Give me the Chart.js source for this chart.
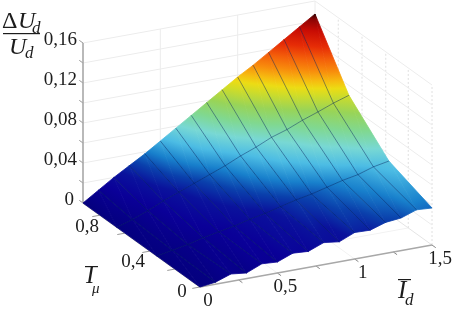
<!DOCTYPE html>
<html>
<head>
<meta charset="utf-8">
<title>surface</title>
<script src="https://cdn.jsdelivr.net/npm/chart.js@4/dist/chart.umd.js"></script>
<style>
	html, body { margin: 0; padding: 0; background: #fff; }
	canvas { display: block; filter: blur(0.4px); }
</style>
</head>
<body>
<canvas id="chart" width="453" height="309"></canvas>
<script>
/* values */
const idValues = [0, 0.1, 0.2, 0.3, 0.4, 0.5, 0.6, 0.7, 0.8, 0.9, 1, 1.1, 1.2, 1.3, 1.4, 1.5];
const imuValues = [0, 0.345, 0.665, 0.936];
const rowImu0 = [0, 0.002, 0.0074, 0.0056, 0.012, 0.011, 0.017, 0.016, 0.022, 0.020, 0.0265, 0.026, 0.031, 0.0326, 0.038, 0.037];
const rowImu1 = [0, 0.003, 0.006, 0.010, 0.013, 0.016, 0.020, 0.023, 0.027, 0.031, 0.034, 0.038, 0.042, 0.045, 0.050, 0.053];
const rowImu2 = [0, 0.005, 0.011, 0.018, 0.024, 0.030, 0.036, 0.042, 0.049, 0.055, 0.062, 0.067, 0.0735, 0.079, 0.085, 0.090];
const rowImu3 = [0, 0.010, 0.020, 0.029, 0.038, 0.048, 0.058, 0.068, 0.078, 0.088, 0.098, 0.107, 0.117, 0.127, 0.137, 0.147];
const rows = [rowImu0, rowImu1, rowImu2, rowImu3];

const zTicks = [0, 0.04, 0.08, 0.12, 0.16];
const zTickLabels = ['0', '0,04', '0,08', '0,12', '0,16'];
const zGrid = [0.02, 0.04, 0.06, 0.08, 0.10, 0.12, 0.14, 0.16];
const imuTicks = [0, 0.4, 0.8];
const imuTickLabels = ['0', '0,4', '0,8'];
const imuGrid = [0.19, 0.37, 0.56, 0.75];
const imuMinor = [0.2, 0.4, 0.6, 0.8];
const idTicks = [0, 0.5, 1, 1.5];
const idTickLabels = ['0', '0,5', '1', '1,5'];

/* colour map by height */
const mapZ = [0, 0.014, 0.024, 0.032, 0.04, 0.05, 0.06, 0.07, 0.08, 0.09, 0.095, 0.10, 0.107, 0.115, 0.124, 0.135, 0.143, 0.147];
const mapC = ['#04007e', '#0a0098', '#0a129c', '#0a40ac', '#1880cc', '#4cbce4', '#78d8d4', '#80d890', '#98d458', '#d0dc28', '#ecdc14', '#f6bc10', '#f88c0c', '#f4600a', '#e62c06', '#c80c04', '#8c0404', '#300000'];

/* view of the box */
const idMax = 1.5, imuMax = 0.936, zMax = 0.16;
function project(id, imu, z) {
	return {
		x: 200 + 232 * id / idMax - 117 * imu / imuMax,
		y: 287 - 42 * id / idMax - 84 * imu / imuMax - 160 * z / zMax
	};
}

function hex(c) {
	return [parseInt(c.substr(1, 2), 16), parseInt(c.substr(3, 2), 16), parseInt(c.substr(5, 2), 16)];
}
function colorAt(z) {
	if (z <= mapZ[0]) return mapC[0];
	for (let i = 1; i < mapZ.length; i++) {
		if (z <= mapZ[i]) {
			const f = (z - mapZ[i - 1]) / (mapZ[i] - mapZ[i - 1]);
			const a = hex(mapC[i - 1]), b = hex(mapC[i]);
			return 'rgb(' + a.map((v, k) => Math.round(v + (b[k] - v) * f)).join(',') + ')';
		}
	}
	return mapC[mapC.length - 1];
}

/* gradient of one triangle, z is linear on it */
function triFill(chart, tri) {
	const sx = chart.scales.x, sy = chart.scales.y;
	const p = tri.map(v => {
		const q = project(v.id, v.imu, v.z);
		return { x: sx.getPixelForValue(q.x), y: sy.getPixelForValue(q.y), z: v.z };
	});
	const d1x = p[1].x - p[0].x, d1y = p[1].y - p[0].y, d1z = p[1].z - p[0].z;
	const d2x = p[2].x - p[0].x, d2y = p[2].y - p[0].y, d2z = p[2].z - p[0].z;
	const det = d1x * d2y - d2x * d1y;
	const gx = (d1z * d2y - d2z * d1y) / det;
	const gy = (d2z * d1x - d1z * d2x) / det;
	const len = gx * gx + gy * gy;
	const zs = p.map(v => v.z);
	const lo = Math.min.apply(null, zs), hi = Math.max.apply(null, zs);
	// scales may not be sized yet on the first pass
	if (hi - lo < 1e-9 || !isFinite(len) || len === 0 || !isFinite(p[0].x)) return colorAt(lo);
	const low = p[zs.indexOf(lo)];
	const gr = chart.ctx.createLinearGradient(low.x, low.y,
		low.x + gx * (hi - lo) / len, low.y + gy * (hi - lo) / len);
	gr.addColorStop(0, colorAt(lo));
	mapZ.forEach(z => {
		if (z > lo && z < hi) gr.addColorStop((z - lo) / (hi - lo), colorAt(z));
	});
	gr.addColorStop(1, colorAt(hi));
	return gr;
}

function lineSet(points, color, width, dash) {
	return {
		data: points.map(p => project(p[0], p[1], p[2])),
		showLine: true,
		borderColor: color,
		borderWidth: width,
		borderDash: dash || [],
		pointRadius: 0,
		fill: false,
		tension: 0
	};
}
function triSet(a, b, c) {
	const tri = [a, b, c];
	const pts = tri.concat([a]);
	return {
		data: pts.map(v => project(v.id, v.imu, v.z)),
		showLine: true,
		fill: 'shape',
		backgroundColor: ctx => triFill(ctx.chart, tri),
		borderColor: ctx => triFill(ctx.chart, tri),
		borderWidth: 0.8,
		pointRadius: 0,
		tension: 0
	};
}
function vertex(i, j) {
	return { id: idValues[i], imu: imuValues[j], z: rows[j][i] };
}

const meshColor = 'rgba(0,30,90,0.45)';
const gridColor = '#ececec';
const axisColor = '#a8a8a8';
const datasets = [];

/* mesh first, first dataset ends up on top */
idValues.forEach((id, i) => {
	if (i === 0 || i === idValues.length - 1) return;
	datasets.push(lineSet(imuValues.map((imu, j) => [id, imu, rows[j][i]]), meshColor, 1));
});
[1, 2].forEach(j => {
	datasets.push(lineSet(idValues.map((id, i) => [id, imuValues[j], rows[j][i]]), meshColor, 1));
});

/* surface, back to front */
for (let j = 0; j < imuValues.length - 1; j++) {
	for (let i = 0; i < idValues.length - 1; i++) {
		datasets.push(triSet(vertex(i, j), vertex(i + 1, j), vertex(i + 1, j + 1)));
		datasets.push(triSet(vertex(i, j), vertex(i + 1, j + 1), vertex(i, j + 1)));
	}
}

/* axes and ticks */
datasets.push(lineSet([[0, imuMax, 0], [0, imuMax, zMax]], axisColor, 1.6));
datasets.push(lineSet([[0, 0, 0], [idMax, 0, 0]], axisColor, 1.4));
datasets.push(lineSet([[0, 0, 0], [0, imuMax, 0]], axisColor, 1.4));
zGrid.concat([0]).forEach(z => {
	datasets.push(lineSet([[0, imuMax, z], [0, imuMax + 0.03, z]], '#999', 1));
});
imuMinor.concat([0]).forEach(imu => {
	datasets.push(lineSet([[0, imu, 0], [-0.05, imu, 0]], '#999', 1));
});
[0.25, 0.5, 0.75, 1, 1.25, 1.5].forEach(id => {
	datasets.push(lineSet([[id, 0, 0], [id, -0.03, 0]], '#888', 1));
});

/* walls */
zGrid.forEach(z => {
	datasets.push(lineSet([[0, imuMax, z], [idMax, imuMax, z]], gridColor, 1));
	datasets.push(lineSet([[idMax, imuMax, z], [idMax, 0, z]], gridColor, 1));
});
[0.5, 1, 1.5].forEach(id => {
	datasets.push(lineSet([[id, imuMax, 0], [id, imuMax, zMax]], gridColor, 1));
});
imuGrid.concat([0]).forEach(imu => {
	datasets.push(lineSet([[idMax, imu, 0], [idMax, imu, zMax]], '#e0e0e0', 1, [2, 2]));
});
[0.5, 1].forEach(id => {
	datasets.push(lineSet([[id, 0, 0], [id, imuMax, 0]], '#f2f2f2', 1));
});
imuGrid.forEach(imu => {
	datasets.push(lineSet([[0, imu, 0], [idMax, imu, 0]], '#f2f2f2', 1));
});
datasets.push(lineSet([[idMax, 0, 0], [idMax, imuMax, 0]], '#e4e4e4', 1));

/* tick labels and axis titles */
const textPlugin = {
	id: 'surfaceText',
	afterDraw(chart) {
		const c = chart.ctx;
		const sx = chart.scales.x, sy = chart.scales.y;
		const put = (id, imu, z, dx, dy, s) => {
			const q = project(id, imu, z);
			c.fillText(s, sx.getPixelForValue(q.x) + dx, sy.getPixelForValue(q.y) + dy);
		};
		c.save();
		c.fillStyle = '#1c1c1c';
		c.textBaseline = 'middle';
		c.font = '19px "Liberation Serif"';
		c.textAlign = 'right';
		zTicks.forEach((z, i) => put(0, imuMax, z, z === 0 ? -9 : -6, -3, zTickLabels[i]));
		c.textAlign = 'center';
		const imuOff = [[-18, 5], [-17, 11], [-13, 12]];
		imuTicks.forEach((v, i) => put(0, v, 0, imuOff[i][0], imuOff[i][1], imuTickLabels[i]));
		idTicks.forEach((v, i) => put(v, 0, 0, 8, 14, idTickLabels[i]));

		/* fraction */
		c.textAlign = 'left';
		c.font = 'italic 24px "Liberation Serif"';
		c.fillText('U', 18, 22);
		c.fillText('U', 9, 48);
		c.font = '24px "Liberation Serif"';
		c.fillText('\u0394', 2, 22);
		c.font = 'italic 17px "Liberation Serif"';
		c.fillText('d', 32, 29);
		c.fillText('d', 25, 54);
		c.fillRect(3, 33, 37, 1.2);

		/* I mu */
		c.font = 'italic 25px "Liberation Serif"';
		c.fillText('I', 86, 276);
		c.fillRect(85, 266, 13, 1.2);
		c.font = 'italic 15px "Liberation Serif"';
		c.fillText('\u03bc', 92, 289);

		/* I d */
		c.font = 'italic 25px "Liberation Serif"';
		c.fillText('I', 398, 291);
		c.fillRect(398, 279, 13, 1.2);
		c.font = 'italic 17px "Liberation Serif"';
		c.fillText('d', 405, 301);
		c.restore();
	}
};

const chart = new Chart(document.getElementById('chart'), {
	type: 'scatter',
	data: { datasets: datasets },
	options: {
		responsive: false,
		animation: false,
		clip: false,
		layout: { padding: 0 },
		scales: {
			x: { type: 'linear', min: 0, max: 453, display: false },
			y: { type: 'linear', min: 0, max: 309, reverse: true, display: false }
		},
		plugins: { legend: { display: false }, tooltip: { enabled: false } }
	},
	plugins: [textPlugin]
});
</script>
</body>
</html>
